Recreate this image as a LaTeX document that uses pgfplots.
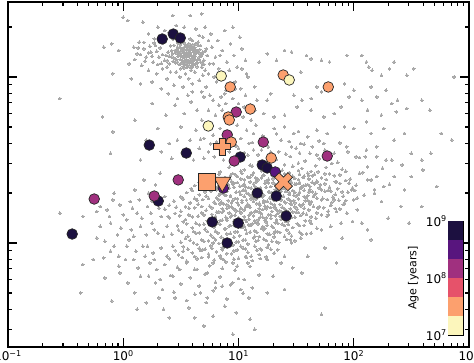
\documentclass[border=0pt]{standalone}
\usepackage{pgfplots}
\pgfplotsset{compat=1.18}
\usepackage{pgfplotstable}
\usepackage{fontspec}
\setmainfont{DejaVu Sans}
\definecolor{c1}{HTML}{1C1040}
\definecolor{c2}{HTML}{58157E}
\definecolor{c3}{HTML}{A0307F}
\definecolor{c4}{HTML}{E6526A}
\definecolor{c5}{HTML}{FCA06E}
\definecolor{c6}{HTML}{FCF6BC}
\definecolor{dotgray}{RGB}{168,168,168}
\pgfdeclareplotmark{Pfill}{%
  \pgfpathmoveto{\pgfqpoint{-0.34\pgfplotmarksize}{\pgfplotmarksize}}%
  \pgfpathlineto{\pgfqpoint{0.34\pgfplotmarksize}{\pgfplotmarksize}}%
  \pgfpathlineto{\pgfqpoint{0.34\pgfplotmarksize}{0.34\pgfplotmarksize}}%
  \pgfpathlineto{\pgfqpoint{\pgfplotmarksize}{0.34\pgfplotmarksize}}%
  \pgfpathlineto{\pgfqpoint{\pgfplotmarksize}{-0.34\pgfplotmarksize}}%
  \pgfpathlineto{\pgfqpoint{0.34\pgfplotmarksize}{-0.34\pgfplotmarksize}}%
  \pgfpathlineto{\pgfqpoint{0.34\pgfplotmarksize}{-\pgfplotmarksize}}%
  \pgfpathlineto{\pgfqpoint{-0.34\pgfplotmarksize}{-\pgfplotmarksize}}%
  \pgfpathlineto{\pgfqpoint{-0.34\pgfplotmarksize}{-0.34\pgfplotmarksize}}%
  \pgfpathlineto{\pgfqpoint{-\pgfplotmarksize}{-0.34\pgfplotmarksize}}%
  \pgfpathlineto{\pgfqpoint{-\pgfplotmarksize}{0.34\pgfplotmarksize}}%
  \pgfpathlineto{\pgfqpoint{-0.34\pgfplotmarksize}{0.34\pgfplotmarksize}}%
  \pgfpathclose
  \pgfusepathqfillstroke
}
\pgfdeclareplotmark{Xfill}{%
  \pgftransformrotate{45}%
  \pgfuseplotmark{Pfill}%
}
\pgfplotstableread[row sep=\\]{
lx ly\\
0.52 1.12\\ 0.55 1.15\\ 0.58 1.10\\ 0.61 1.13\\ 0.49 1.14\\ 0.47 1.09\\ 0.56 1.07\\ 0.63 1.08\\ 0.66 1.12\\ 0.60 1.17\\
0.53 1.18\\ 0.45 1.16\\ 0.42 1.12\\ 0.50 1.05\\ 0.59 1.04\\ 0.68 1.06\\ 0.70 1.10\\ 0.64 1.16\\ 0.57 1.20\\ 0.51 1.21\\
0.44 1.19\\ 0.39 1.15\\ 0.40 1.08\\ 0.46 1.03\\ 0.54 1.02\\ 0.62 1.03\\ 0.71 1.04\\ 0.73 1.13\\ 0.67 1.19\\ 0.60 1.22\\
0.535 1.135\\ 0.565 1.125\\ 0.585 1.145\\ 0.515 1.095\\ 0.545 1.085\\ 0.605 1.095\\ 0.625 1.125\\ 0.575 1.165\\ 0.505 1.165\\ 0.475 1.125\\
0.485 1.075\\ 0.525 1.055\\ 0.595 1.065\\ 0.645 1.085\\ 0.655 1.145\\ 0.615 1.155\\ 0.555 1.185\\ 0.495 1.195\\ 0.455 1.145\\ 0.435 1.095\\
0.37 1.13\\ 0.38 1.06\\ 0.43 1.23\\ 0.48 1.24\\ 0.58 1.23\\ 0.65 1.21\\ 0.72 1.17\\ 0.75 1.08\\ 0.69 1.01\\ 0.57 0.99\\
0.49 1.00\\ 0.41 1.03\\ 0.36 1.10\\ 0.74 1.02\\ 0.66 1.25\\
0.545 1.105\\ 0.575 1.085\\ 0.595 1.125\\ 0.625 1.105\\ 0.565 1.145\\ 0.525 1.145\\ 0.505 1.125\\ 0.535 1.075\\ 0.615 1.075\\ 0.635 1.145\\
0.585 1.185\\ 0.545 1.165\\ 0.465 1.165\\ 0.495 1.105\\ 0.455 1.085\\ 0.675 1.125\\ 0.685 1.085\\ 0.665 1.165\\ 0.605 1.195\\ 0.525 1.205\\
0.59 1.11\\ 0.56 1.13\\ 0.53 1.10\\ 0.50 1.13\\ 0.62 1.14\\ 0.64 1.10\\ 0.58 1.16\\ 0.55 1.06\\ 0.60 1.06\\ 0.47 1.18\\
0.43 1.14\\ 0.52 1.17\\ 0.67 1.09\\ 0.69 1.15\\ 0.63 1.20\\
0.00 1.36\\ 0.04 1.34\\ 0.17 1.33\\ 0.43 1.37\\ 0.58 1.37\\ 0.68 1.38\\ 0.30 1.30\\ 0.36 1.28\\ 0.22 1.26\\ 0.14 1.21\\
0.18 1.17\\ 0.24 1.15\\ 0.28 1.19\\ 0.31 1.12\\ 0.26 1.09\\ 0.20 1.12\\ 0.12 1.14\\ 0.09 1.18\\ 0.33 1.24\\ 0.27 1.23\\
0.34 1.05\\ 0.29 1.02\\ 0.22 1.04\\ 0.16 1.07\\ -0.17 1.18\\ -0.10 1.20\\ -0.04 1.16\\ -0.09 1.02\\ 0.05 1.08\\ 0.07 0.99\\
0.15 0.96\\ 0.25 0.97\\ 0.33 0.93\\ 0.38 0.99\\ 0.44 0.95\\ 0.52 0.94\\ 0.60 0.96\\ 0.66 0.98\\ 0.72 0.94\\ 0.79 1.00\\
0.83 1.05\\ 0.80 1.12\\ 0.77 1.18\\ 0.82 1.22\\ 0.76 1.26\\ 0.71 1.30\\ 0.63 1.29\\ 0.53 1.30\\ 0.46 1.31\\ 0.40 1.27\\
0.86 1.16\\ 0.90 1.09\\ 0.93 1.20\\ 0.96 1.13\\ 0.99 1.06\\ 1.03 1.17\\ 0.88 1.28\\ 0.95 1.30\\ 1.01 1.24\\ 1.06 1.10\\
1.07 1.02\\ 0.97 0.97\\ 0.89 0.92\\ 0.85 0.88\\ 0.75 0.89\\ 0.68 0.91\\ 0.56 0.89\\ 0.47 0.87\\ 0.39 0.90\\ 0.81 0.97\\
0.87 1.01\\ 0.92 1.04\\ 0.74 1.22\\ 0.69 1.24\\ 0.78 1.08\\ 0.84 1.13\\
1.25 1.14\\ 1.33 1.10\\ 1.40 1.16\\ 1.46 1.15\\ 1.59 1.13\\ 1.63 1.11\\ 1.72 1.10\\ 1.79 1.09\\ 1.94 1.13\\ 2.07 1.13\\
2.11 1.09\\ 2.13 1.06\\ 2.16 1.04\\ 2.24 1.01\\ 2.31 1.05\\ 2.35 1.09\\ 2.46 1.01\\ 2.52 1.05\\ 2.87 1.00\\
1.54 1.03\\ 1.68 0.94\\ 1.72 0.91\\ 1.63 0.87\\ 1.55 0.86\\ 1.48 0.89\\ 1.28 0.90\\ 1.25 0.86\\ 1.16 0.86\\ 1.14 0.94\\
1.02 0.93\\ 1.08 1.00\\ 1.03 1.05\\ 1.18 1.09\\ 1.92 0.96\\ 1.96 0.88\\ 2.00 0.92\\ 2.07 0.86\\ 2.15 0.94\\ 2.20 0.88\\
2.28 0.92\\ 2.33 0.84\\ 2.38 0.86\\ 2.12 0.80\\ 2.24 0.77\\ 2.37 0.79\\ 2.46 0.81\\ 2.59 0.86\\ 2.66 0.80\\ 1.89 0.82\\
1.83 0.78\\ 1.74 0.76\\ 1.63 0.80\\ 1.51 0.82\\ 1.40 0.77\\ 1.31 0.76\\ 1.22 0.78\\ 1.14 0.80\\ 1.05 0.82\\
1.92 0.70\\ 2.00 0.69\\ 2.11 0.73\\ 2.15 0.66\\ 2.26 0.69\\ 2.35 0.62\\ 2.44 0.66\\ 2.50 0.54\\ 2.59 0.50\\ 2.67 0.54\\
2.76 0.66\\ 2.85 0.62\\ 1.77 0.66\\ 1.68 0.68\\ 1.60 0.64\\ 1.48 0.66\\ 1.40 0.70\\ 1.31 0.69\\ 1.37 0.62\\ 1.46 0.58\\
1.54 0.60\\ 1.64 0.58\\ 1.74 0.60\\ 1.83 0.54\\ 1.94 0.58\\ 2.02 0.52\\ 2.11 0.56\\ 2.20 0.52\\ 2.33 0.50\\
0.70 0.88\\ 0.78 0.86\\ 0.83 0.83\\ 0.88 0.90\\ 0.95 0.87\\ 1.00 0.84\\ 1.06 0.89\\ 1.10 0.83\\ 0.74 0.80\\ 0.80 0.77\\
0.86 0.80\\ 0.97 0.78\\ 1.04 0.76\\ 1.11 0.74\\ 0.68 0.74\\ 0.76 0.72\\ 0.84 0.69\\ 0.99 0.71\\ 1.07 0.68\\ 0.63 0.68\\
0.70 0.63\\ 0.78 0.65\\ 0.88 0.62\\ 1.02 0.63\\ 1.09 0.60\\ 0.66 0.57\\ 0.74 0.55\\ 0.82 0.58\\ 0.92 0.55\\ 1.00 0.57\\
1.08 0.53\\ 0.58 0.62\\ 0.55 0.54\\ 0.61 0.50\\ 0.70 0.51\\ 0.79 0.52\\ 0.87 0.50\\ 0.96 0.51\\ 1.13 0.56\\ 0.64 0.80\\
0.59 0.85\\ 0.53 0.78\\ 0.50 0.70\\ 0.47 0.62\\ 0.91 0.74\\ 0.94 0.66\\ 1.13 0.66\\ 1.15 0.71\\ 0.72 0.69\\ 0.81 0.61\\
0.89 0.84\\ 0.97 0.93\\ 0.60 0.91\\ 0.45 0.83\\
-0.55 0.87\\ -0.18 0.76\\ -0.09 0.67\\ -0.11 0.54\\ 0.37 0.77\\ 0.25 0.84\\ 0.10 0.74\\ 0.30 0.69\\ 0.20 0.62\\ 0.40 0.60\\
0.33 0.55\\ 0.15 0.50\\ 0.42 0.51\\
1.02 0.512\\ 1.18 0.489\\ 1.33 0.503\\ 1.45 0.521\\ 1.58 0.494\\ 1.70 0.508\\ 1.86 0.486\\ 2.05 0.515\\
0.92 0.457\\ 1.05 0.441\\ 1.12 0.463\\ 1.27 0.446\\ 1.38 0.438\\ 1.47 0.462\\ 1.55 0.449\\ 1.63 0.431\\ 1.76 0.455\\ 1.90 0.444\\ 2.12 0.459\\
0.78 0.404\\ 0.88 0.391\\ 0.97 0.412\\ 1.08 0.398\\ 1.16 0.387\\ 1.22 0.409\\ 1.31 0.395\\ 1.40 0.417\\ 1.49 0.388\\ 1.57 0.403\\ 1.66 0.414\\ 1.72 0.392\\ 1.83 0.406\\ 1.97 0.385\\ 2.20 0.401\\
0.62 0.346\\ 0.74 0.358\\ 0.83 0.337\\ 0.91 0.352\\ 0.99 0.364\\ 1.06 0.341\\ 1.13 0.355\\ 1.19 0.333\\ 1.26 0.362\\ 1.34 0.348\\ 1.42 0.339\\ 1.50 0.357\\ 1.56 0.344\\ 1.64 0.366\\ 1.71 0.351\\ 1.79 0.336\\ 1.88 0.359\\ 2.02 0.347\\ 2.31 0.354\\
0.55 0.304\\ 0.66 0.291\\ 0.76 0.312\\ 0.85 0.298\\ 0.93 0.286\\ 1.01 0.309\\ 1.09 0.295\\ 1.15 0.316\\ 1.22 0.289\\ 1.29 0.302\\ 1.37 0.313\\ 1.44 0.292\\ 1.53 0.306\\ 1.60 0.284\\ 1.67 0.299\\ 1.75 0.311\\ 1.84 0.293\\ 1.95 0.305\\ 2.09 0.288\\
0.44 0.253\\ 0.58 0.241\\ 0.69 0.262\\ 0.79 0.247\\ 0.87 0.236\\ 0.95 0.258\\ 1.03 0.244\\ 1.11 0.266\\ 1.18 0.239\\ 1.25 0.251\\ 1.33 0.263\\ 1.41 0.242\\ 1.48 0.255\\ 1.56 0.234\\ 1.63 0.249\\ 1.72 0.261\\ 1.81 0.243\\ 1.93 0.256\\
0.36 0.204\\ 0.50 0.191\\ 0.62 0.213\\ 0.72 0.197\\ 0.81 0.186\\ 0.90 0.208\\ 0.98 0.194\\ 1.06 0.216\\ 1.14 0.189\\ 1.21 0.202\\ 1.28 0.214\\ 1.36 0.193\\ 1.45 0.206\\ 1.52 0.184\\ 1.61 0.199\\ 1.69 0.211\\ 1.78 0.192\\ 1.88 0.205\\
0.40 0.153\\ 0.54 0.141\\ 0.65 0.162\\ 0.75 0.147\\ 0.84 0.136\\ 0.93 0.158\\ 1.01 0.144\\ 1.09 0.166\\ 1.17 0.139\\ 1.24 0.152\\ 1.32 0.163\\ 1.40 0.142\\ 1.49 0.155\\ 1.58 0.134\\ 1.67 0.149\\ 1.77 0.161\\
0.47 0.104\\ 0.60 0.091\\ 0.70 0.113\\ 0.79 0.097\\ 0.88 0.086\\ 0.96 0.108\\ 1.04 0.094\\ 1.12 0.116\\ 1.20 0.089\\ 1.29 0.102\\ 1.38 0.114\\ 1.47 0.093\\ 1.57 0.106\\ 1.68 0.088\\
0.42 0.053\\ 0.56 0.041\\ 0.66 0.062\\ 0.76 0.047\\ 0.85 0.036\\ 0.93 0.058\\ 1.01 0.044\\ 1.10 0.066\\ 1.18 0.039\\ 1.27 0.052\\ 1.36 0.063\\ 1.46 0.042\\ 1.59 0.055\\
0.50 0.004\\ 0.64 -0.009\\ 0.74 0.013\\ 0.83 -0.003\\ 0.91 -0.014\\ 1.00 0.008\\ 1.08 -0.006\\ 1.17 0.016\\ 1.26 -0.011\\ 1.35 0.002\\ 1.49 0.014\\
0.45 -0.046\\ 0.60 -0.059\\ 0.71 -0.037\\ 0.81 -0.053\\ 0.90 -0.064\\ 0.99 -0.042\\ 1.08 -0.056\\ 1.19 -0.034\\ 1.31 -0.061\\
0.40 -0.096\\ 0.55 -0.109\\ 0.68 -0.087\\ 0.79 -0.103\\ 0.89 -0.114\\ 1.00 -0.092\\ 1.12 -0.106\\ 1.24 -0.084\\
0.47 -0.146\\ 0.62 -0.159\\ 0.75 -0.137\\ 0.86 -0.153\\ 0.97 -0.164\\ 1.10 -0.142\\
0.41 -0.196\\ 0.58 -0.209\\ 0.71 -0.187\\ 0.84 -0.203\\ 1.00 -0.214\\ 1.18 -0.192\\
0.50 -0.246\\ 0.66 -0.259\\ 0.80 -0.237\\ 0.93 -0.253\\
0.44 -0.296\\ 0.62 -0.309\\ 0.78 -0.287\\ 1.04 -0.303\\
0.55 -0.346\\ 0.72 -0.359\\ 0.90 -0.337\\
0.97 0.478\\ 1.10 0.469\\ 1.24 0.484\\ 1.40 0.472\\ 1.52 0.481\\ 1.67 0.466\\ 1.81 0.479\\
0.84 0.428\\ 0.95 0.419\\ 1.02 0.433\\ 1.13 0.422\\ 1.20 0.436\\ 1.29 0.418\\ 1.35 0.431\\ 1.44 0.425\\ 1.52 0.437\\ 1.60 0.421\\ 1.69 0.429\\ 1.79 0.416\\ 1.93 0.432\\ 2.08 0.424\\
0.69 0.378\\ 0.80 0.369\\ 0.87 0.383\\ 0.94 0.372\\ 1.02 0.386\\ 1.10 0.368\\ 1.17 0.381\\ 1.24 0.374\\ 1.30 0.387\\ 1.38 0.371\\ 1.45 0.379\\ 1.53 0.366\\ 1.61 0.384\\ 1.68 0.373\\ 1.76 0.382\\ 1.85 0.369\\ 1.93 0.377\\ 2.12 0.381\\
0.59 0.328\\ 0.70 0.319\\ 0.79 0.333\\ 0.88 0.322\\ 0.96 0.336\\ 1.04 0.318\\ 1.11 0.331\\ 1.17 0.324\\ 1.24 0.337\\ 1.32 0.321\\ 1.39 0.329\\ 1.47 0.316\\ 1.54 0.334\\ 1.62 0.323\\ 1.70 0.332\\ 1.78 0.319\\ 1.86 0.327\\ 1.99 0.331\\ 2.18 0.322\\
0.50 0.278\\ 0.62 0.269\\ 0.72 0.283\\ 0.81 0.272\\ 0.89 0.286\\ 0.97 0.268\\ 1.05 0.281\\ 1.13 0.274\\ 1.20 0.287\\ 1.27 0.271\\ 1.35 0.279\\ 1.43 0.266\\ 1.50 0.284\\ 1.58 0.273\\ 1.65 0.282\\ 1.73 0.269\\ 1.82 0.277\\ 1.91 0.283\\ 2.03 0.271\\
0.40 0.228\\ 0.54 0.219\\ 0.65 0.233\\ 0.75 0.222\\ 0.84 0.236\\ 0.92 0.218\\ 1.00 0.231\\ 1.08 0.224\\ 1.16 0.237\\ 1.23 0.221\\ 1.31 0.229\\ 1.38 0.216\\ 1.46 0.234\\ 1.54 0.223\\ 1.62 0.232\\ 1.70 0.219\\ 1.80 0.227\\ 1.91 0.233\\
0.45 0.178\\ 0.57 0.169\\ 0.68 0.183\\ 0.77 0.172\\ 0.86 0.186\\ 0.94 0.168\\ 1.02 0.181\\ 1.10 0.174\\ 1.18 0.187\\ 1.26 0.171\\ 1.34 0.179\\ 1.42 0.166\\ 1.50 0.184\\ 1.59 0.173\\ 1.68 0.182\\ 1.78 0.169\\
0.52 0.128\\ 0.63 0.119\\ 0.73 0.133\\ 0.82 0.122\\ 0.90 0.136\\ 0.99 0.118\\ 1.07 0.131\\ 1.15 0.124\\ 1.23 0.137\\ 1.32 0.121\\ 1.41 0.129\\ 1.51 0.116\\ 1.62 0.134\\
0.48 0.078\\ 0.61 0.069\\ 0.71 0.083\\ 0.80 0.072\\ 0.89 0.086\\ 0.97 0.068\\ 1.06 0.081\\ 1.14 0.074\\ 1.23 0.087\\ 1.32 0.071\\ 1.42 0.079\\ 1.53 0.066\\
0.54 0.028\\ 0.68 0.019\\ 0.78 0.033\\ 0.87 0.022\\ 0.96 0.036\\ 1.04 0.018\\ 1.13 0.031\\ 1.22 0.024\\ 1.31 0.037\\ 1.42 0.021\\
0.52 -0.022\\ 0.66 -0.031\\ 0.76 -0.017\\ 0.86 -0.028\\ 0.95 -0.014\\ 1.04 -0.032\\ 1.14 -0.019\\ 1.25 -0.026\\
0.48 -0.072\\ 0.62 -0.081\\ 0.74 -0.067\\ 0.84 -0.078\\ 0.94 -0.064\\ 1.06 -0.082\\ 1.18 -0.069\\
0.89 0.392\\ 0.99 0.401\\ 1.10 0.396\\ 1.20 0.393\\ 1.29 0.407\\ 1.38 0.399\\ 1.47 0.402\\ 1.56 0.394\\ 1.64 0.405\\
0.86 0.342\\ 0.95 0.356\\ 1.04 0.349\\ 1.14 0.343\\ 1.23 0.358\\ 1.32 0.351\\ 1.40 0.345\\ 1.49 0.354\\ 1.58 0.347\\ 1.66 0.356\\
0.88 0.293\\ 0.98 0.305\\ 1.07 0.301\\ 1.17 0.296\\ 1.26 0.309\\ 1.35 0.297\\ 1.44 0.304\\ 1.52 0.294\\ 1.61 0.307\\
0.85 0.247\\ 0.94 0.241\\ 1.03 0.256\\ 1.13 0.251\\ 1.22 0.244\\ 1.31 0.257\\ 1.40 0.249\\ 1.49 0.243\\ 1.58 0.255\\
0.87 0.196\\ 0.96 0.205\\ 1.05 0.199\\ 1.15 0.193\\ 1.24 0.207\\ 1.33 0.201\\ 1.42 0.194\\ 1.51 0.203\\
0.90 0.147\\ 1.00 0.153\\ 1.09 0.144\\ 1.19 0.156\\ 1.28 0.149\\ 1.37 0.142\\ 1.46 0.155\\
0.92 0.102\\ 1.02 0.095\\ 1.11 0.107\\ 1.21 0.099\\ 1.30 0.093\\ 1.40 0.105\\
-0.55 0.18\\ -0.35 0.16\\ -0.23 0.19\\ -0.20 0.22\\ -0.14 0.20\\ -0.09 0.26\\ -0.03 0.23\\ -0.20 0.10\\ -0.11 0.12\\ -0.23 0.03\\
-0.16 0.01\\ -0.11 -0.05\\ -0.17 -0.09\\ -0.04 -0.08\\ -0.26 -0.10\\ -0.35 -0.13\\ -0.16 -0.21\\ -0.03 -0.18\\ 0.09 -0.10\\ 0.13 -0.15\\
-0.37 -0.30\\ -0.04 -0.14\\ 0.03 -0.02\\ 0.09 0.04\\ 0.15 0.10\\ 0.03 0.14\\ 0.12 0.18\\ 0.21 0.22\\ 0.06 0.25\\ 0.17 -0.02\\
0.26 -0.06\\ 0.29 -0.16\\ 0.32 -0.22\\ 0.28 -0.24\\ 0.34 -0.28\\ 0.45 -0.33\\ 0.57 -0.39\\ 0.67 -0.30\\ 0.73 -0.33\\ 0.80 -0.27\\
0.86 -0.26\\ 0.95 -0.24\\ 0.43 -0.20\\ 0.49 -0.16\\ 0.55 -0.12\\ 0.64 -0.16\\ 0.73 -0.18\\ 0.78 -0.12\\ 0.87 -0.10\\ 0.95 -0.12\\
0.38 -0.08\\ 0.43 -0.02\\ 0.52 -0.05\\ 0.61 0.00\\ 0.69 -0.04\\ 0.78 0.00\\ 0.87 -0.03\\ 0.95 -0.01\\
0.22 0.30\\ 0.28 0.35\\ 0.18 0.38\\ 0.32 0.42\\ 0.10 0.32\\ 0.25 0.12\\ 0.30 0.06\\ 0.20 0.05\\ 0.33 0.16\\ 0.24 0.18\\
0.07 0.08\\ -0.05 0.05\\ 0.00 0.17\\ -0.08 0.30\\ 0.14 0.26\\ 0.36 0.28\\ 0.38 0.10\\ 0.19 -0.08\\ 0.23 -0.12\\ 0.04 -0.24\\
0.10 -0.30\\ 0.20 -0.36\\ 0.15 -0.20\\ 0.35 -0.40\\ 0.40 -0.45\\ -0.10 -0.35\\ 0.62 -0.45\\ 0.78 -0.44\\ 0.70 -0.50\\ 0.88 -0.38\\
1.10 -0.46\\ 0.95 -0.55\\ 1.14 -0.52\\ 1.72 -0.43\\ 0.98 -0.42\\
1.05 0.10\\ 1.14 0.04\\ 1.22 0.08\\ 1.31 0.06\\ 1.29 0.01\\ 1.40 0.04\\ 1.46 0.00\\ 1.54 0.03\\ 1.63 0.06\\ 1.72 0.08\\
1.80 0.10\\ 1.89 0.12\\ 1.99 0.13\\ 2.07 0.12\\ 2.12 0.08\\ 1.34 -0.04\\ 1.40 -0.08\\ 1.47 -0.15\\ 1.37 -0.12\\ 1.25 -0.10\\
1.20 -0.04\\ 1.11 -0.08\\ 1.02 -0.02\\ 1.08 -0.12\\ 0.99 -0.14\\ 1.05 -0.22\\ 1.12 -0.27\\ 1.09 -0.33\\ 1.02 -0.28\\
1.98 0.32\\ 1.83 0.26\\ 1.92 0.24\\ 2.00 0.26\\ 2.18 0.30\\ 2.24 0.25\\ 2.03 0.20\\ 1.94 0.18\\ 1.85 0.19\\ 2.26 0.34\\
2.44 0.32\\ 2.41 0.22\\ 2.59 0.22\\ 2.72 0.34\\
2.05 0.42\\ 2.15 0.38\\ 2.25 0.45\\ 2.35 0.40\\ 2.28 0.50\\ 2.42 0.47\\ 2.50 0.40\\ 2.60 0.44\\ 2.10 0.52\\ 1.95 0.55\\
2.20 0.58\\ 1.75 0.56\\ 1.62 0.54\\ 1.50 0.57\\ 1.35 0.55\\ 1.20 0.56\\ 2.30 0.15\\ 2.48 0.12\\ 2.15 0.02\\ 1.90 0.03\\
1.75 -0.03\\ 1.60 -0.08\\ 1.85 -0.12\\ 1.55 -0.18\\ 1.30 -0.20\\ 1.25 -0.30\\ 1.40 -0.28\\
}\graydots
\pgfplotstableread[row sep=\\]{
lx ly\\
0.83 0.415\\ 0.93 0.408\\ 1.03 0.419\\ 1.12 0.411\\ 1.21 0.405\\ 1.33 0.418\\ 1.43 0.409\\ 1.53 0.414\\ 1.61 0.406\\ 1.75 0.417\\ 1.88 0.410\\
0.66 0.365\\ 0.78 0.357\\ 0.87 0.368\\ 0.96 0.360\\ 1.05 0.354\\ 1.15 0.367\\ 1.23 0.358\\ 1.30 0.363\\ 1.38 0.355\\ 1.46 0.366\\ 1.53 0.359\\ 1.60 0.353\\ 1.68 0.364\\ 1.75 0.357\\ 1.84 0.369\\ 1.96 0.361\\
0.60 0.316\\ 0.71 0.309\\ 0.81 0.320\\ 0.90 0.312\\ 0.98 0.306\\ 1.06 0.318\\ 1.13 0.310\\ 1.20 0.315\\ 1.27 0.307\\ 1.34 0.319\\ 1.41 0.311\\ 1.49 0.305\\ 1.57 0.317\\ 1.64 0.309\\ 1.72 0.321\\ 1.80 0.313\\ 1.90 0.308\\ 2.01 0.316\\
0.52 0.265\\ 0.64 0.258\\ 0.74 0.269\\ 0.83 0.261\\ 0.91 0.255\\ 0.99 0.267\\ 1.07 0.259\\ 1.15 0.264\\ 1.22 0.256\\ 1.29 0.268\\ 1.37 0.260\\ 1.45 0.254\\ 1.52 0.266\\ 1.60 0.258\\ 1.68 0.270\\ 1.77 0.262\\ 1.87 0.257\\
0.46 0.216\\ 0.57 0.209\\ 0.68 0.220\\ 0.77 0.212\\ 0.86 0.206\\ 0.94 0.218\\ 1.02 0.210\\ 1.10 0.215\\ 1.18 0.207\\ 1.25 0.219\\ 1.32 0.211\\ 1.40 0.205\\ 1.49 0.217\\ 1.57 0.209\\ 1.65 0.221\\ 1.74 0.213\\ 1.84 0.208\\
0.49 0.165\\ 0.60 0.158\\ 0.70 0.169\\ 0.80 0.161\\ 0.89 0.155\\ 0.97 0.167\\ 1.05 0.159\\ 1.13 0.164\\ 1.21 0.156\\ 1.28 0.168\\ 1.36 0.160\\ 1.45 0.154\\ 1.54 0.166\\ 1.63 0.158\\ 1.72 0.170\\
0.55 0.116\\ 0.66 0.109\\ 0.75 0.120\\ 0.84 0.112\\ 0.93 0.106\\ 1.01 0.118\\ 1.09 0.110\\ 1.17 0.115\\ 1.25 0.107\\ 1.34 0.119\\ 1.43 0.111\\ 1.53 0.105\\ 1.63 0.117\\
0.51 0.065\\ 0.63 0.058\\ 0.73 0.069\\ 0.82 0.061\\ 0.90 0.055\\ 0.99 0.067\\ 1.07 0.059\\ 1.16 0.064\\ 1.25 0.056\\ 1.34 0.068\\ 1.44 0.060\\ 1.55 0.054\\
0.58 0.016\\ 0.70 0.009\\ 0.80 0.020\\ 0.89 0.012\\ 0.98 0.006\\ 1.06 0.018\\ 1.15 0.010\\ 1.24 0.015\\ 1.33 0.007\\ 1.45 0.019\\
0.56 -0.037\\ 0.67 -0.044\\ 0.77 -0.033\\ 0.86 -0.041\\ 0.96 -0.047\\ 1.06 -0.035\\ 1.16 -0.043\\ 1.28 -0.038\\
0.51 -0.088\\ 0.64 -0.095\\ 0.74 -0.084\\ 0.85 -0.092\\ 0.96 -0.098\\ 1.07 -0.086\\ 1.19 -0.094\\
0.92 0.388\\ 1.05 0.381\\ 1.15 0.392\\ 1.26 0.384\\ 1.35 0.378\\ 1.44 0.390\\ 1.52 0.382\\ 1.61 0.387\\
0.82 0.338\\ 0.92 0.331\\ 1.01 0.342\\ 1.09 0.334\\ 1.18 0.328\\ 1.28 0.340\\ 1.37 0.332\\ 1.45 0.337\\ 1.54 0.329\\ 1.62 0.341\\
0.83 0.288\\ 0.93 0.281\\ 1.02 0.292\\ 1.11 0.284\\ 1.21 0.278\\ 1.30 0.290\\ 1.39 0.282\\ 1.48 0.287\\ 1.57 0.279\\ 1.66 0.291\\
0.80 0.238\\ 0.90 0.231\\ 0.99 0.242\\ 1.08 0.234\\ 1.19 0.228\\ 1.28 0.240\\ 1.36 0.232\\ 1.45 0.237\\ 1.53 0.229\\ 1.62 0.241\\
0.83 0.188\\ 0.92 0.181\\ 1.01 0.192\\ 1.11 0.184\\ 1.20 0.178\\ 1.29 0.190\\ 1.38 0.182\\ 1.47 0.187\\ 1.56 0.179\\
0.86 0.138\\ 0.96 0.131\\ 1.05 0.142\\ 1.14 0.134\\ 1.24 0.128\\ 1.33 0.140\\ 1.43 0.132\\
0.44 1.115\\ 0.48 1.155\\ 0.51 1.085\\ 0.54 1.125\\ 0.57 1.095\\ 0.61 1.118\\ 0.63 1.162\\ 0.58 1.135\\ 0.55 1.098\\ 0.50 1.152\\
0.46 1.105\\ 0.53 1.165\\ 0.60 1.085\\ 0.66 1.105\\ 0.68 1.135\\ 0.62 1.178\\ 0.56 1.175\\ 0.49 1.178\\ 0.42 1.158\\ 0.40 1.125\\
0.52 1.062\\ 0.58 1.058\\ 0.64 1.062\\ 0.70 1.075\\ 0.71 1.155\\ 0.65 1.192\\ 0.54 1.195\\ 0.47 1.205\\ 0.41 1.188\\ 0.38 1.098\\
0.22 1.145\\ 0.25 1.125\\ 0.29 1.155\\ 0.32 1.175\\ 0.34 1.135\\ 0.19 1.095\\ 0.23 1.185\\ 0.30 1.075\\ 0.15 1.135\\ 0.27 1.205\\
0.35 1.205\\ 0.33 1.082\\ 0.18 1.208\\ 0.13 1.175\\ 0.10 1.105\\
1.05 0.545\\ 1.17 0.532\\ 1.28 0.548\\ 1.41 0.536\\ 1.53 0.542\\ 1.68 0.531\\ 1.80 0.528\\ 0.98 0.585\\ 1.12 0.605\\ 1.26 0.578\\
1.44 0.612\\ 1.57 0.595\\ 1.70 0.615\\ 1.88 0.603\\ 1.21 0.645\\ 1.33 0.658\\ 1.52 0.672\\ 0.88 0.578\\ 0.76 0.598\\ 0.67 0.625\\
0.05 0.02\\ -0.02 0.09\\ 0.11 -0.05\\ 0.21 -0.02\\ 0.16 0.15\\ 0.27 0.08\\ 0.33 -0.03\\ 0.02 -0.10\\ -0.08 -0.02\\ -0.12 0.16\\
0.08 0.21\\ 0.25 0.25\\ 0.31 0.21\\ 0.39 0.16\\ 0.35 0.04\\ 0.27 -0.10\\ 0.36 -0.13\\ 0.22 -0.20\\ 0.31 -0.33\\ 0.12 -0.40\\
}\graydotsB
\pgfplotsset{
  agedot/.style={only marks, mark=*, mark size=5.3pt,
    mark options={fill=#1, draw=black!85, line width=0.7pt}},
  graydot/.style={dotgray, only marks, mark=*, mark size=1.4pt,
    mark options={draw=dotgray, fill=dotgray, line width=0pt}},
}
\begin{document}
\begin{tikzpicture}
\path[use as bounding box] (-8pt,-15pt) rectangle (466pt,347pt);
\begin{axis}[
  at={(0pt,0pt)}, anchor=south west,
  scale only axis, width=461pt, height=345pt,
  xmode=log, ymode=log,
  xmin=0.1, xmax=1000, ymin=0.2363, ymax=28.3,
  xtick={0.1,1,10,100,1000},
  xticklabels={10\textsuperscript{−1},10\textsuperscript{0},10\textsuperscript{1},10\textsuperscript{2},10\textsuperscript{3}},
  ytick={0.1,1,10,100},
  yticklabels=\empty,
  tick align=inside,
  major tick length=9pt, minor tick length=4.5pt,
  every tick/.style={black, line width=1.1pt},
  axis line style={line width=1.4pt},
  tick label style={font=\fontsize{12}{14}\selectfont},
]
\addplot[graydot] table[x expr=10^(\thisrow{lx}), y expr=10^(\thisrow{ly})] {\graydots};
\addplot[graydot] table[x expr=10^(\thisrow{lx}), y expr=10^(\thisrow{ly})] {\graydotsB};
\addplot[agedot=c1] table[row sep=\\, x expr=10^(\thisrow{lx}), y expr=10^(\thisrow{ly})] {
lx ly\\ 0.338 1.229\\ 0.434 1.259\\ 0.495 1.235\\ 0.226 0.590\\ 0.547 0.542\\ 1.015 0.518\\
1.206 0.470\\ 1.249 0.452\\ 1.163 0.301\\ 1.328 0.283\\ 0.304 0.253\\ -0.443 0.054\\
0.772 0.127\\ 0.998 0.120\\ 0.902 0.000\\ 1.414 0.163\\
};
\addplot[agedot=c2] table[row sep=\\, x expr=10^(\thisrow{lx}), y expr=10^(\thisrow{ly})] {
lx ly\\ 1.319 0.428\\ 0.868 0.331\\
};
\addplot[agedot=c3] table[row sep=\\, x expr=10^(\thisrow{lx}), y expr=10^(\thisrow{ly})] {
lx ly\\ 0.980 0.789\\ 0.902 0.651\\ 0.963 0.494\\ 1.215 0.608\\ 0.477 0.380\\ 0.269 0.283\\
-0.252 0.265\\ 1.770 0.524\\
};
\addplot[agedot=c5] table[row sep=\\, x expr=10^(\thisrow{lx}), y expr=10^(\thisrow{ly})] {
lx ly\\ 0.928 0.940\\ 0.911 0.759\\ 0.920 0.741\\ 0.937 0.608\\ 1.284 0.512\\ 1.388 1.012\\
1.779 0.940\\ 1.102 0.807\\
};
\addplot[agedot=c6] table[row sep=\\, x expr=10^(\thisrow{lx}), y expr=10^(\thisrow{ly})] {
lx ly\\ 0.850 1.006\\ 0.738 0.705\\ 1.440 0.982\\
};
\addplot[only marks, mark=triangle*, mark size=9.8pt,
  mark options={rotate=180, fill=c5, draw=black!85, line width=0.7pt}]
  table[row sep=\\, x expr=10^(\thisrow{lx}), y expr=10^(\thisrow{ly})] {lx ly\\ 0.859 0.367\\};
\addplot[only marks, mark=square*, mark size=8.5pt,
  mark options={fill=c5, draw=black!85, line width=0.7pt}]
  table[row sep=\\, x expr=10^(\thisrow{lx}), y expr=10^(\thisrow{ly})] {lx ly\\ 0.729 0.367\\};
\addplot[only marks, mark=Pfill, mark size=8.8pt,
  mark options={fill=c5, draw=black!85, line width=0.7pt}]
  table[row sep=\\, x expr=10^(\thisrow{lx}), y expr=10^(\thisrow{ly})] {lx ly\\ 0.856 0.580\\};
\addplot[only marks, mark=Xfill, mark size=9.5pt,
  mark options={fill=c5, draw=black!85, line width=0.7pt}]
  table[row sep=\\, x expr=10^(\thisrow{lx}), y expr=10^(\thisrow{ly})] {lx ly\\ 1.391 0.369\\};
\end{axis}
\begin{axis}[
  at={(440pt,12pt)}, anchor=south west,
  scale only axis, width=15pt, height=114pt,
  xmin=0, xmax=1, ymode=log, ymin=1e7, ymax=1e9,
  xtick=\empty, ytick={1e7,1e8,1e9},
  yticklabels={10\textsuperscript{7},10\textsuperscript{8},10\textsuperscript{9}},
  ytick style={draw=none},
  yticklabel style={font=\fontsize{12}{14}\selectfont, inner xsep=1pt},
  ylabel={Age [years]},
  ylabel style={font=\fontsize{11}{13}\selectfont, inner sep=1pt, yshift=5pt},
  axis line style={line width=0.9pt},
]
\addplot[fill=c6, draw=none] coordinates {(0,1e7) (1,1e7) (1,2.1544e7) (0,2.1544e7)};
\addplot[fill=c5, draw=none] coordinates {(0,2.1544e7) (1,2.1544e7) (1,4.6416e7) (0,4.6416e7)};
\addplot[fill=c4, draw=none] coordinates {(0,4.6416e7) (1,4.6416e7) (1,1e8) (0,1e8)};
\addplot[fill=c3, draw=none] coordinates {(0,1e8) (1,1e8) (1,2.1544e8) (0,2.1544e8)};
\addplot[fill=c2, draw=none] coordinates {(0,2.1544e8) (1,2.1544e8) (1,4.6416e8) (0,4.6416e8)};
\addplot[fill=c1, draw=none] coordinates {(0,4.6416e8) (1,4.6416e8) (1,1e9) (0,1e9)};
\end{axis}
\end{tikzpicture}
\end{document}
